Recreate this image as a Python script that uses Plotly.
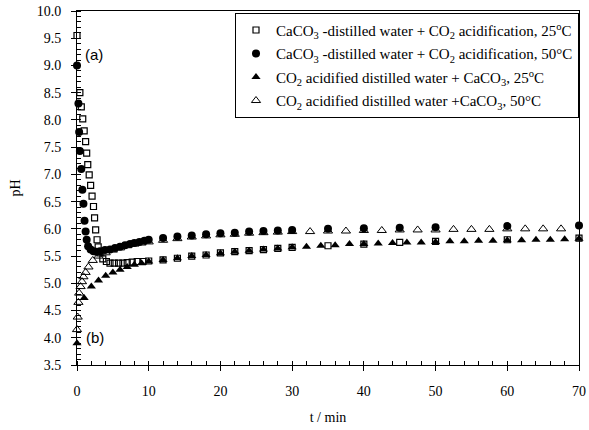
import plotly.graph_objects as go

# Data
t_sq25 = [0, 0.4, 0.6, 0.8, 1.0, 1.2, 1.35, 1.5, 1.7, 1.9, 2.1, 2.3, 2.45, 2.6, 2.8, 2.95,
          3.2, 3.6, 4.1, 4.6, 5.2, 5.8, 6.4, 7.0, 7.7, 8.4, 9.2, 10,
          12, 14, 16, 18, 20, 22, 24, 26, 28, 30, 35, 40, 45, 50, 60, 70]
ph_sq25 = [9.55, 8.5, 8.24, 8.02, 7.8, 7.6, 7.39, 7.18, 6.99, 6.8, 6.6, 6.41, 6.2, 5.98, 5.8, 5.67,
           5.56, 5.45, 5.4, 5.37, 5.37, 5.37, 5.37, 5.38, 5.39, 5.4, 5.4, 5.41,
           5.43, 5.46, 5.5, 5.52, 5.56, 5.58, 5.6, 5.62, 5.64, 5.66, 5.69, 5.72, 5.75, 5.77, 5.8, 5.83]

t_c50 = [0, 0.2, 0.3, 0.4, 0.6, 0.75, 0.9, 1.05, 1.2, 1.35, 1.55, 1.9, 2.3, 2.7, 3.2, 3.9, 4.6,
         5.3, 6.0, 6.7, 7.4, 8.0, 8.7, 9.4, 10,
         12, 14, 16, 18, 20, 22, 24, 26, 28, 30, 35, 40, 45, 50, 60, 70]
ph_c50 = [9.0, 8.3, 7.78, 7.43, 7.1, 6.72, 6.46, 6.15, 5.95, 5.8, 5.68, 5.62, 5.59, 5.58, 5.59, 5.61, 5.62,
          5.65, 5.67, 5.7, 5.72, 5.74, 5.76, 5.78, 5.8,
          5.83, 5.86, 5.88, 5.9, 5.92, 5.93, 5.95, 5.96, 5.97, 5.98, 6.0, 6.01, 6.02, 6.03, 6.05, 6.06]

t_tr25 = [0, 1, 2, 3, 4, 5, 6, 7, 8, 9, 10,
          12, 14, 16, 18, 20, 22, 24, 26, 28, 30, 32, 34, 36, 38, 40,
          42, 44, 46, 48, 50, 52, 54, 56, 58, 60, 62, 64, 66, 68, 70]
ph_tr25 = [3.9, 4.73, 4.94, 5.05, 5.14, 5.2, 5.25, 5.3, 5.34, 5.37, 5.4,
           5.43, 5.46, 5.5, 5.52, 5.55, 5.58, 5.6, 5.62, 5.64, 5.66, 5.67, 5.69, 5.7, 5.72, 5.72,
           5.73, 5.74, 5.75, 5.75, 5.76, 5.77, 5.77, 5.78, 5.78, 5.79, 5.79, 5.8, 5.8, 5.81, 5.82]

t_tr50 = [0, 0.1, 0.2, 0.3, 0.5, 0.7, 0.9, 1.2, 1.6, 2.2,
          3, 4, 5, 6, 7, 8, 9, 10,
          12, 14, 16, 18, 20, 22, 24, 26, 28, 30,
          32.5, 35, 37.5, 40, 42.5, 45, 47.5, 50, 52.5, 55, 57.5, 60, 62.5, 65, 67.5]
ph_tr50 = [4.15, 4.38, 4.65, 4.82, 4.94, 5.03, 5.12, 5.2, 5.3, 5.42,
           5.5, 5.56, 5.61, 5.65, 5.69, 5.72, 5.74, 5.76,
           5.79, 5.82, 5.85, 5.87, 5.89, 5.9, 5.92, 5.93, 5.94, 5.95,
           5.95, 5.96, 5.96, 5.97, 5.97, 5.98, 5.98, 5.98, 5.99, 5.99, 5.99, 6.0, 6.0, 6.0, 6.0]

names = [
    "CaCO<sub>3</sub> -distilled water + CO<sub>2</sub> acidification, 25<sup>o</sup>C",
    "CaCO<sub>3</sub> -distilled water + CO<sub>2</sub> acidification, 50°C",
    "CO<sub>2</sub> acidified distilled water + CaCO<sub>3</sub>, 25<sup>o</sup>C",
    "CO<sub>2</sub> acidified distilled water +CaCO<sub>3</sub>, 50°C",
]

fig = go.Figure()
fig.add_trace(go.Scatter(x=t_sq25, y=ph_sq25, mode="markers", name=names[0], cliponaxis=False,
                         legendgroup="a",
                         marker=dict(symbol="square-open", size=6, color="black", line=dict(width=1.2))))
fig.add_trace(go.Scatter(x=t_c50, y=ph_c50, mode="markers", name=names[1], cliponaxis=False,
                         legendgroup="b",
                         marker=dict(symbol="circle", size=8, color="black")))
fig.add_trace(go.Scatter(x=t_tr25, y=ph_tr25, mode="markers", name=names[2], cliponaxis=False,
                         legendgroup="c",
                         marker=dict(symbol="triangle-up", size=8, color="black")))
fig.add_trace(go.Scatter(x=t_tr50, y=ph_tr50, mode="markers", name=names[3], cliponaxis=False,
                         legendgroup="d",
                         marker=dict(symbol="triangle-up-open", size=8, color="black", line=dict(width=1))))

serif = "Liberation Serif"

fig.update_layout(
    width=589, height=430,
    margin=dict(l=77, r=3, t=11, b=65),
    plot_bgcolor="white", paper_bgcolor="white",
    font=dict(family=serif, size=14, color="black"),
    showlegend=True,
    legend=dict(x=1.0, xanchor="right", y=0.995, yanchor="top",
                bordercolor="black", borderwidth=1, bgcolor="white",
                font=dict(family=serif, size=15, color="black"),
                itemsizing="trace", itemwidth=30, tracegroupgap=1),
    xaxis=dict(range=[0, 70], tickvals=[0, 10, 20, 30, 40, 50, 60, 70],
               ticks="outside", ticklen=5, tickwidth=1, tickcolor="black",
               ticklabelstandoff=8, ticklabeloverflow="allow",
               showline=True, linecolor="black", linewidth=1, mirror=True,
               showgrid=False, zeroline=False,
               minor=dict(dtick=2, ticks="inside", ticklen=4, tickcolor="black", showgrid=False),
               title=dict(text="t / min", font=dict(family=serif, size=14), standoff=14)),
    yaxis=dict(range=[3.5, 10], dtick=0.5, tick0=3.5, tickformat=".1f",
               ticks="outside", ticklen=5, tickwidth=1, tickcolor="black",
               ticklabelstandoff=7, ticklabeloverflow="allow",
               showline=True, linecolor="black", linewidth=1, mirror=True,
               showgrid=False, zeroline=False,
               minor=dict(dtick=0.1, ticks="inside", ticklen=4, tickcolor="black", showgrid=False),
               title=dict(text="pH", font=dict(family=serif, size=14), standoff=12)),
)

fig.add_annotation(x=2.4, y=9.2, text="(a)", showarrow=False,
                   font=dict(family="Liberation Sans", size=15, color="black"))
fig.add_annotation(x=2.5, y=4.0, text="(b)", showarrow=False,
                   font=dict(family="Liberation Sans", size=15, color="black"))

fig.write_html("out.html", config={"displayModeBar": False},
               post_script="document.body.style.margin='0';")
